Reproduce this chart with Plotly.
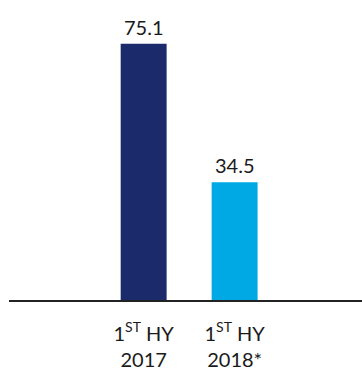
import plotly.graph_objects as go

categories = ["1<sup>ST</sup> HY<br>2017", "1<sup>ST</sup> HY<br>2018*"]
values = [75.1, 34.5]
value_labels = ["75.1", "34.5"]
colors = ["#1b2a6b", "#00a8e4"]

FONT = "Lato, sans-serif"
TEXT_COLOR = "#1a1a1a"

fig = go.Figure(
    go.Bar(
        x=categories,
        y=values,
        marker=dict(color=colors, line=dict(width=0)),
        width=0.505,
        hoverinfo="skip",
    )
)

# value labels above each bar
for cat, val, lab in zip(categories, values, value_labels):
    fig.add_annotation(
        x=cat,
        y=val,
        text=lab,
        showarrow=False,
        yanchor="bottom",
        yshift=3,
        font=dict(size=20, color=TEXT_COLOR, family=FONT),
    )

fig.update_layout(
    width=362,
    height=371,
    margin=dict(l=9, r=0, t=10, b=68),
    paper_bgcolor="white",
    plot_bgcolor="white",
    showlegend=False,
    font=dict(family=FONT, color=TEXT_COLOR),
    xaxis=dict(
        range=[-1.48, 2.40],
        showline=True,
        linecolor="#222222",
        linewidth=1.5,
        showgrid=False,
        zeroline=False,
        ticks="",
        ticklabelstandoff=15,
        tickfont=dict(size=20, color=TEXT_COLOR, family=FONT),
    ),
    yaxis=dict(
        range=[0, 84.95],
        visible=False,
        showgrid=False,
        zeroline=False,
    ),
)

fig.write_html("out.html")
